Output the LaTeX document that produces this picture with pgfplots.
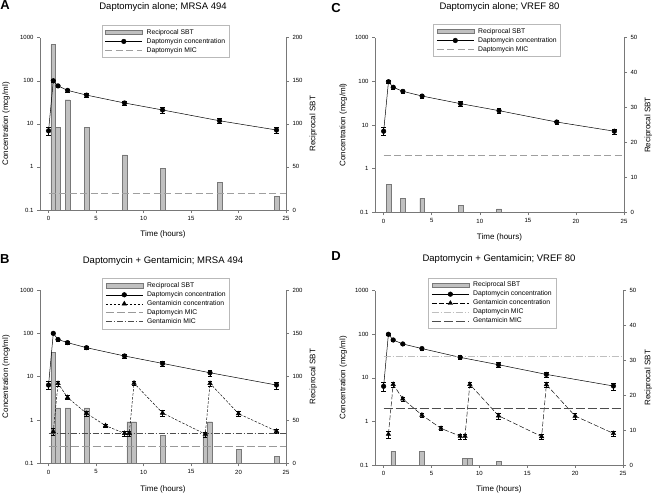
\documentclass[border=0pt]{standalone}
\usepackage{pgfplots}
\pgfplotsset{compat=1.18}
\usepackage{fontspec}
\setmainfont{Liberation Sans}
\definecolor{barfill}{RGB}{192,192,192}
\definecolor{bardraw}{RGB}{120,120,120}
\definecolor{axgray}{RGB}{120,120,120}
\pgfplotsset{
  panel/.style={scale only axis, xmin=-0.9, xmax=25, xtick={0,5,...,25},
    tick align=outside, axis line style={axgray, line width=0.5pt},
    tick style={axgray, line width=0.5pt}, major tick length=3pt,
    ticklabel style={font=\fontsize{6}{7}\selectfont},
    /pgf/number format/assume math mode=true,
    label style={font=\fontsize{8}{9}\selectfont}},
  leftax/.style={panel, 
    ytick={0.1,1,10,100,1000}, yticklabels={0.1,1,10,100,1000}, yminorticks=false,
    axis x line*=bottom, axis y line*=left,
    ylabel={Concentration (mcg/ml)}, xlabel={Time (hours)},
    legend cell align=left,
    legend style={anchor=north west, draw=gray!55, line width=0.5pt, fill=white,
    font=\fontsize{6.8}{8}\selectfont, inner xsep=3pt, inner ysep=3pt, row sep=0.5pt, column sep=3pt,
    nodes={inner sep=1pt, text height=5pt, text depth=1.5pt}},
    legend image code/.code={\draw[mark repeat=2,mark phase=2,##1] plot coordinates {(0pt,0pt) (18.5pt,0pt) (37pt,0pt)};},
  },
  rightax/.style={panel, ybar, bar width=0.5, ymin=0,
    axis y line*=right, axis x line=none, ylabel={Reciprocal SBT}},
  barleg/.style={legend image code/.code={\draw[fill=barfill, draw=bardraw, line width=0.4pt] (0pt,-2.2pt) rectangle (37pt,2.2pt);}},
  errs/.style={error bars/y dir=both, error bars/y explicit,
    error bars/error bar style={black, solid, line width=0.4pt},
    error bars/error mark options={rotate=90, mark size=2.2pt, black, solid, line width=0.4pt}},
  dap/.style={black, line width=0.5pt, mark=*, mark size=2.3pt, mark options={solid, fill=black}, errs},
  gen/.style={black, line width=0.45pt, mark=triangle*, mark size=2.6pt, mark options={solid, fill=black}, errs},
  bars/.style={fill=barfill, draw=bardraw, line width=0.4pt},
}
\begin{document}
\begin{tikzpicture}
\useasboundingbox (0pt,0pt) rectangle (656pt,498pt);
% ---------------- A ----------------
\begin{axis}[rightax, at={(40pt,288pt)}, anchor=south west, width=246pt, height=172.3pt,
  ymax=200, ytick={0,50,100,150,200},
  ylabel style={at={(axis description cs:1.111,0.5)}, anchor=center}]
\addplot[bars] coordinates {(0.5,192) (1,96) (2,128) (4,96) (8,64) (12,48) (18,32) (24,16)};
\end{axis}
\begin{axis}[leftax, ymode=log, ymin=0.1, ymax=1000, at={(40pt,288pt)}, anchor=south west, width=246pt, height=172.3pt,
  ylabel style={at={(axis description cs:-0.138,0.5)}, anchor=center},
  every axis x label/.style={at={(axis description cs:0.5,-0.141)}, anchor=center, font=\fontsize{8}{9}\selectfont},
  every axis title/.style={at={(axis description cs:0.5,1.178)}, anchor=center, font=\fontsize{9.5}{11}\selectfont},
  title={Daptomycin alone; MRSA 494}, legend style={at={(axis description cs:0.251,1.074)}}]
\addlegendimage{barleg}\addlegendentry{Reciprocal SBT}
\addplot[dap] coordinates {(0,6.9) +- (0,1.4) (0.5,100) +- (0,8) (1,76) +- (0,6) (2,60) +- (0,5) (4,46.5) +- (0,4) (8,30.5) +- (0,3.5) (12,21) +- (0,3) (18,11.8) +- (0,1.5) (24,7.2) +- (0,1)};
\addlegendentry{Daptomycin concentration}
\addplot[gray!75, line width=0.6pt, dash pattern=on 7pt off 3.5pt] coordinates {(0,0.25) (25,0.25)};
\addlegendentry{Daptomycin MIC}
\end{axis}
% ---------------- B ----------------
\begin{axis}[rightax, at={(40pt,34.7pt)}, anchor=south west, width=246pt, height=173.3pt,
  ymax=200, ytick={0,50,100,150,200},
  ylabel style={at={(axis description cs:1.111,0.5)}, anchor=center}]
\addplot[bars] coordinates {(0.5,128) (1,64) (2,64) (4,64) (8.5,48) (9,48) (12,32) (16.5,32) (17,48) (20,16) (24,8)};
\end{axis}
\begin{axis}[leftax, ymode=log, ymin=0.1, ymax=1000, at={(40pt,34.7pt)}, anchor=south west, width=246pt, height=173.3pt,
  ylabel style={at={(axis description cs:-0.138,0.5)}, anchor=center},
  every axis x label/.style={at={(axis description cs:0.5,-0.150)}, anchor=center, font=\fontsize{8}{9}\selectfont},
  every axis title/.style={at={(axis description cs:0.5,1.165)}, anchor=center, font=\fontsize{9.5}{11}\selectfont},
  title={Daptomycin + Gentamicin; MRSA 494}, legend style={at={(axis description cs:0.253,1.0675)}}]
\addlegendimage{barleg}\addlegendentry{Reciprocal SBT}
\addplot[dap] coordinates {(0,6.4) +- (0,1.4) (0.5,100) +- (0,6) (1,72) +- (0,5) (2,61) +- (0,4) (4,46.6) +- (0,3) (8,30) +- (0,3) (12,20.2) +- (0,2.5) (17,12.3) +- (0,1.8) (24,6.4) +- (0,1.2)};
\addlegendentry{Daptomycin concentration}
\addplot[gen, dash pattern=on 2.5pt off 1.5pt] coordinates {(0.5,0.54) +- (0,0.1) (1,7.0) +- (0,1) (2,3.3) +- (0,0.35) (4,1.42) +- (0,0.18) (6,0.74) +- (0,0.07) (8,0.49) +- (0,0.06) (8.5,0.49) +- (0,0.06) (9,7.1) +- (0,0.9) (12,1.45) +- (0,0.22) (16.5,0.47) +- (0,0.06) (17,7.0) +- (0,0.9) (20,1.4) +- (0,0.2) (24,0.55) +- (0,0.06)};
\addlegendentry{Gentamicin concentration}
\addplot[gray!80, line width=0.6pt, dash pattern=on 8pt off 3pt] coordinates {(0,0.25) (25,0.25)};
\addlegendentry{Daptomycin MIC}
\addplot[black!70, line width=0.6pt, dash pattern=on 6pt off 2pt on 1pt off 2pt] coordinates {(0,0.5) (25,0.5)};
\addlegendentry{Gentamicin MIC}
\end{axis}
% ---------------- C ----------------
\begin{axis}[rightax, at={(375pt,285.7pt)}, anchor=south west, width=249pt, height=174.6pt,
  ymax=50, ytick={0,10,...,50},
  ylabel style={at={(axis description cs:1.098,0.5)}, anchor=center}]
\addplot[bars] coordinates {(0.5,8) (2,4) (4,4) (8,2) (12,1)};
\end{axis}
\begin{axis}[leftax, ymode=log, ymin=0.1, ymax=1000, at={(375pt,285.7pt)}, anchor=south west, width=249pt, height=174.6pt,
  ylabel style={at={(axis description cs:-0.127,0.5)}, anchor=center},
  every axis x label/.style={at={(axis description cs:0.5,-0.145)}, anchor=center, font=\fontsize{8}{9}\selectfont},
  every axis title/.style={at={(axis description cs:0.5,1.176)}, anchor=center, font=\fontsize{9.5}{11}\selectfont},
  title={Daptomycin alone; VREF 80}, legend style={at={(axis description cs:0.234,1.0785)}}]
\addlegendimage{barleg}\addlegendentry{Reciprocal SBT}
\addplot[dap] coordinates {(0,7.2) +- (0,1.5) (0.5,98) +- (0,8) (1,73) +- (0,6) (2,59) +- (0,5) (4,46) +- (0,4) (8,30.8) +- (0,3.5) (12,21.3) +- (0,3) (18,11.7) +- (0,1.5) (24,7.2) +- (0,1)};
\addlegendentry{Daptomycin concentration}
\addplot[gray!75, line width=0.6pt, dash pattern=on 7pt off 3.5pt] coordinates {(0,2) (25,2)};
\addlegendentry{Daptomycin MIC}
\end{axis}
% ---------------- D ----------------
\begin{axis}[rightax, at={(375pt,33pt)}, anchor=south west, width=248pt, height=174.3pt,
  ymax=50, ytick={0,10,...,50},
  ylabel style={at={(axis description cs:1.102,0.5)}, anchor=center}]
\addplot[bars] coordinates {(1,4) (4,4) (8.5,2) (9,2) (12,1)};
\end{axis}
\begin{axis}[leftax, ymode=log, ymin=0.1, ymax=1000, at={(375pt,33pt)}, anchor=south west, width=248pt, height=174.3pt,
  ylabel style={at={(axis description cs:-0.128,0.5)}, anchor=center},
  every axis x label/.style={at={(axis description cs:0.5,-0.139)}, anchor=center, font=\fontsize{8}{9}\selectfont},
  every axis title/.style={at={(axis description cs:0.5,1.18)}, anchor=center, font=\fontsize{9.5}{11}\selectfont},
  title={Daptomycin + Gentamicin; VREF 80}, legend style={at={(axis description cs:0.215,1.0746)}}]
\addlegendimage{barleg}\addlegendentry{Reciprocal SBT}
\addplot[dap] coordinates {(0,6.4) +- (0,1.4) (0.5,100) +- (0,6) (1,74) +- (0,5) (2,60) +- (0,4) (4,47) +- (0,3) (8,29.5) +- (0,3) (12,20) +- (0,2.5) (17,12) +- (0,1.8) (24,6.5) +- (0,1.2)};
\addlegendentry{Daptomycin concentration}
\addplot[gen, dash pattern=on 5pt off 2pt] coordinates {(0.5,0.51) +- (0,0.1) (1,7.1) +- (0,1) (2,3.3) +- (0,0.35) (4,1.4) +- (0,0.18) (6,0.69) +- (0,0.07) (8,0.46) +- (0,0.06) (8.5,0.46) +- (0,0.06) (9,7.1) +- (0,0.9) (12,1.35) +- (0,0.2) (16.5,0.45) +- (0,0.06) (17,7.0) +- (0,0.9) (20,1.33) +- (0,0.2) (24,0.53) +- (0,0.06)};
\addlegendentry{Gentamicin concentration}
\addplot[gray!50, line width=0.6pt, dash pattern=on 7pt off 2pt on 1pt off 2pt] coordinates {(0,32) (25,32)};
\addlegendentry{Daptomycin MIC}
\addplot[black!70, line width=0.6pt, dash pattern=on 9pt off 3pt] coordinates {(0,2) (25,2)};
\addlegendentry{Gentamicin MIC}
\end{axis}
% panel letters
\node[font=\bfseries\fontsize{13}{13}\selectfont] at (5pt,492.5pt) {A};
\node[font=\bfseries\fontsize{13}{13}\selectfont] at (4.7pt,239.3pt) {B};
\node[font=\bfseries\fontsize{13}{13}\selectfont] at (336pt,490.3pt) {C};
\node[font=\bfseries\fontsize{13}{13}\selectfont] at (336pt,241.7pt) {D};
\end{tikzpicture}
\end{document}
